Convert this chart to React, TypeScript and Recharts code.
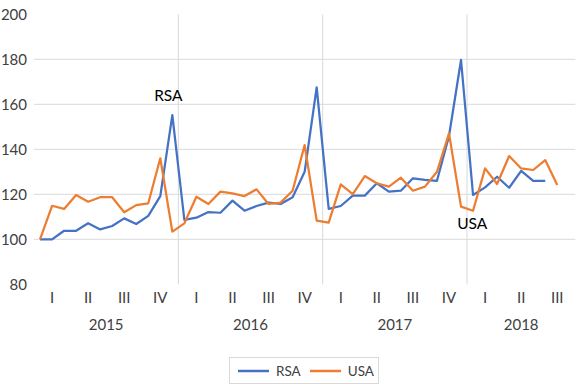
import {
  LineChart,
  Line,
  XAxis,
  YAxis,
  ReferenceLine,
  ReferenceDot,
  Legend,
} from "recharts";

// monthly index, Jan 2015 .. Sep 2018 (last category empty)
const MONTH_COUNT = 45;
const YEARS = ["2015", "2016", "2017", "2018"];
const YEAR_MONTHS = [12, 12, 12, 9];
const QUARTERS = ["I", "II", "III", "IV", "I", "II", "III", "IV", "I", "II", "III", "IV", "I", "II", "III"];
const Y_TICKS = [80, 100, 120, 140, 160, 180, 200];
const GRID_VALUES = [100, 120, 140, 160, 180];

const RSA = [
  100, 100, 103.8, 103.8, 107.1, 104.4, 105.9, 109.3, 106.8, 110.4, 119.2, 155.2,
  108.6, 109.6, 112.1, 111.8, 117.2, 112.7, 114.8, 116.3, 115.7, 118.7, 130.0, 167.5,
  113.5, 114.8, 119.4, 119.4, 124.9, 121.2, 121.6, 127.1, 126.4, 126.0, 145.9, 179.7,
  119.7, 123.1, 127.8, 122.9, 130.4, 126.0, 126.0,
];
const USA = [
  100, 114.9, 113.5, 119.7, 116.7, 118.7, 118.7, 112.0, 115.2, 116.0, 136.0, 103.4,
  107.1, 118.9, 115.7, 121.2, 120.4, 119.2, 122.2, 115.7, 116.3, 121.6, 141.9, 108.3,
  107.4, 124.4, 120.1, 128.1, 124.9, 123.4, 127.4, 121.6, 123.4, 130.0, 147.1, 114.5,
  112.7, 131.5, 124.6, 137.0, 131.5, 130.8, 135.2, 124.1,
];

const BLUE = "#4472C4";
const ORANGE = "#ED7D31";
const GRID = "#d9d9d9";
const TEXT = "#404040";
const FONT = "Lato, 'Liberation Sans', sans-serif";

const data = Array.from({ length: MONTH_COUNT }, (_, i) => ({
  i,
  rsa: RSA[i],
  usa: USA[i],
}));

const quarterTicks = QUARTERS.map((_, k) => 1 + k * 3);

// year boundaries and centres on the month scale
const yearStarts = YEAR_MONTHS.map((_, k) =>
  YEAR_MONTHS.slice(0, k).reduce((a, b) => a + b, 0)
);
const yearTicks = yearStarts.map((s, k) => s - 0.5 + YEAR_MONTHS[k] / 2);
const yearBounds = yearStarts.slice(1).map((s) => s - 0.5);

const LegendBox = ({ payload }: any) => (
  <div
    style={{
      boxSizing: "border-box",
      width: "100%",
      height: "100%",
      border: `1px solid ${GRID}`,
      display: "flex",
      alignItems: "center",
      paddingLeft: 8,
      fontFamily: FONT,
      fontSize: 13.5,
      color: TEXT,
    }}
  >
    {(payload || []).map((p: any) => (
      <div key={p.value} style={{ display: "flex", alignItems: "center", marginRight: 9 }}>
        <svg width={31} height={4} style={{ marginRight: 7 }}>
          <line x1={0} y1={2} x2={31} y2={2} stroke={p.color} strokeWidth={2.5} />
        </svg>
        <span>{p.value}</span>
      </div>
    ))}
  </div>
);

export default function App() {
  return (
    <div style={{ position: "absolute", left: 0, top: 0, width: 578, height: 385, background: "#fff" }}>
      <LineChart
        width={578}
        height={385}
        data={data}
        margin={{ top: 14.3, right: 2.7, left: 0, bottom: 44.7 }}
        style={{ fontFamily: FONT }}
      >
        <XAxis dataKey="i" type="number" domain={[-0.5, MONTH_COUNT - 0.5]} hide height={0} />
        <XAxis
          xAxisId="q"
          dataKey="i"
          type="number"
          domain={[-0.5, MONTH_COUNT - 0.5]}
          ticks={quarterTicks}
          interval={0}
          tickFormatter={(_v: number, idx: number) => QUARTERS[idx]}
          axisLine={false}
          tickLine={false}
          tickSize={0}
          tickMargin={8}
          height={28}
          tick={{ fontSize: 15, fill: TEXT }}
        />
        <XAxis
          xAxisId="y"
          dataKey="i"
          type="number"
          domain={[-0.5, MONTH_COUNT - 0.5]}
          ticks={yearTicks}
          interval={0}
          tickFormatter={(_v: number, idx: number) => YEARS[idx]}
          axisLine={false}
          tickLine={false}
          tickSize={0}
          tickMargin={7}
          height={28}
          tick={{ fontSize: 15, fill: TEXT }}
        />
        <YAxis
          type="number"
          domain={[80, 200]}
          ticks={Y_TICKS}
          interval={0}
          axisLine={false}
          tickLine={false}
          tickSize={0}
          tickMargin={7}
          width={34}
          tick={{ fontSize: 15, fill: TEXT }}
        />
        {GRID_VALUES.map((v) => (
          <ReferenceLine key={v} y={v} stroke={GRID} strokeWidth={1} />
        ))}
        {yearBounds.map((x) => (
          <ReferenceLine key={x} x={x} stroke={GRID} strokeWidth={1} />
        ))}
        <Legend
          content={<LegendBox />}
          layout="vertical"
          align="center"
          verticalAlign="middle"
          wrapperStyle={{ left: 229, top: 357, width: 150, height: 27 }}
        />
        <Line
          dataKey="rsa"
          name="RSA"
          stroke={BLUE}
          strokeWidth={2.25}
          dot={false}
          isAnimationActive={false}
          strokeLinejoin="round"
        />
        <Line
          dataKey="usa"
          name="USA"
          stroke={ORANGE}
          strokeWidth={2.25}
          dot={false}
          isAnimationActive={false}
          strokeLinejoin="round"
        />
        <ReferenceDot
          x={10.67}
          y={163.9}
          r={0}
          fill="none"
          stroke="none"
          label={{ value: "RSA", position: "center", fill: "#000", fontSize: 15.5 }}
        />
        <ReferenceDot
          x={35.93}
          y={107}
          r={0}
          fill="none"
          stroke="none"
          label={{ value: "USA", position: "center", fill: "#000", fontSize: 15.5 }}
        />
      </LineChart>
    </div>
  );
}
